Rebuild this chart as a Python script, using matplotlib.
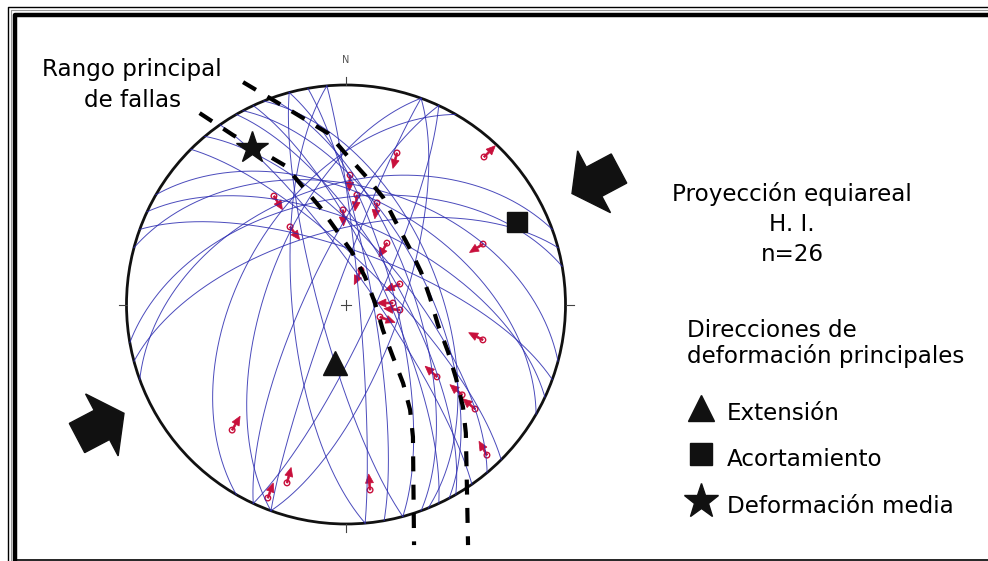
import numpy as np
import matplotlib.pyplot as plt
from matplotlib.patches import Circle, FancyArrow

# net centre and radius, in the pixel frame of the figure
CX, CY, R = 346.0, 304.5, 219.5

# fault planes: dip direction / dip (degrees)
dip_dirs = [60, 65, 70, 55, 75, 62, 80, 50, 68, 45,
            25, 30, 20, 15,
            350, 340, 345,
            115, 295, 110, 290,
            255, 265,
            290, 300,
            85]
dips = [70, 75, 65, 80, 72, 60, 80, 68, 55, 75,
        60, 50, 70, 45,
        50, 45, 62,
        80, 75, 70, 85,
        80, 70,
        60, 50,
        85]

# slickenside lineations (trend / plunge) and slip sense on the net
slip_trend = [18.6, 43.1, 1.8, 5.7, 17.0, 358.2, 326.4, 324.2, 33.7, 66.2,
              23.5, 69.2, 88.2, 95.8, 110.2, 104.5, 128.5, 129.0, 222.2,
              202.0, 198.3, 172.6, 136.9, 127.9]
slip_plunge = [28.0, 8.8, 40.7, 48.5, 50.0, 54.5, 40.4, 54.1, 62.5, 32.3,
               76.1, 68.6, 72.6, 69.9, 76.6, 35.8, 46.0, 25.3, 23.8,
               5.5, 15.5, 15.9, 6.7, 33.4]
slip_sense = [195, 45, 183, 187, 188, 178, 148, 143, 210, 238,
              205, 247, 270, 275, 110, 297, 312, 310, 30,
              20, 15, 355, 330, 310]

# principal strain axes (trend / plunge)
axes_names = ['Extensión', 'Acortamiento', 'Deformación media']
axes_trend = [190.6, 64.2, 329.0]
axes_plunge = [67.9, 14.6, 18.0]
axes_marker = ['^', 's', '*']

# the two dashed limits of the main fault range, x/y in net radii
range_w_x = [-0.667, -0.515, -0.278, -0.118, 0.027, 0.087, 0.132, 0.168,
             0.214, 0.260, 0.292, 0.305, 0.310]
range_w_y = [0.872, 0.772, 0.633, 0.443, 0.239, 0.125, 0.007, -0.116,
             -0.239, -0.358, -0.480, -0.603, -1.096]
range_e_x = [-0.469, -0.301, -0.082, 0.005, 0.087, 0.169, 0.223, 0.287,
             0.342, 0.383, 0.419, 0.465, 0.501, 0.533, 0.546, 0.556]
range_e_y = [1.013, 0.913, 0.780, 0.679, 0.588, 0.488, 0.383, 0.262,
             0.148, 0.030, -0.093, -0.216, -0.335, -0.467, -0.585, -1.096]


def project(trend, plunge):
    t = np.radians(trend)
    p = np.radians(plunge)
    r = np.sqrt(2) * np.sin((np.pi / 2 - p) / 2)
    return CX + R * r * np.sin(t), CY - R * r * np.cos(t)


def great_circle(dip_dir, dip):
    s = np.radians(dip_dir - 90)
    d = np.radians(dip)
    rake = np.radians(np.linspace(0, 180, 361))
    n = np.cos(rake) * np.cos(s) - np.sin(rake) * np.cos(d) * np.sin(s)
    e = np.cos(rake) * np.sin(s) + np.sin(rake) * np.cos(d) * np.cos(s)
    down = np.sin(rake) * np.sin(d)
    trend = np.degrees(np.arctan2(e, n))
    plunge = np.degrees(np.arcsin(np.clip(down, -1, 1)))
    return project(trend, plunge)


fig = plt.figure(figsize=(9.88, 5.61), dpi=100)
ax = fig.add_axes([0, 0, 1, 1])
ax.set_xlim(0, 988)
ax.set_ylim(561, 0)
ax.set_aspect('equal')
ax.axis('off')

# double frame
ax.plot([7.5, 7.5, 988], [561, 7, 7], color='black', lw=1.0)
ax.plot([10.5, 10.5, 988], [561, 10, 10], color='0.6', lw=0.8)
ax.plot([14.5, 14.5, 988], [561, 14.5, 14.5], color='black', lw=3.2)
ax.plot([14.5, 988], [559.5, 559.5], color='black', lw=1.2)

# fault planes
for dd, dp in zip(dip_dirs, dips):
    x, y = great_circle(dd, dp)
    ax.plot(x, y, color='#2b2bb0', lw=0.7, alpha=0.85)

# primitive, centre cross and cardinal ticks
ax.add_patch(Circle((CX, CY), R, fill=False, ec='#111111', lw=2.0))
ax.plot([CX - 5, CX + 5], [CY, CY], color='#444444', lw=0.8)
ax.plot([CX, CX], [CY - 5, CY + 5], color='#444444', lw=0.8)
for az in (0, 90, 180, 270):
    a = np.radians(az)
    ax.plot([CX + R * np.sin(a), CX + (R + 8) * np.sin(a)],
            [CY - R * np.cos(a), CY - (R + 8) * np.cos(a)],
            color='#444444', lw=0.8)
ax.text(CX, CY - R - 25, 'N', ha='center', va='center', fontsize=7,
        color='#555555')

# slip arrows
for tr, pl, sense in zip(slip_trend, slip_plunge, slip_sense):
    x0, y0 = project(tr, pl)
    a = np.radians(sense)
    dx, dy = 16 * np.sin(a), -16 * np.cos(a)
    ax.add_patch(Circle((x0, y0), 2.8, fill=False, ec='#c8103c', lw=1.0))
    ax.add_patch(FancyArrow(x0, y0, dx, dy, width=1.8, head_width=8,
                            head_length=9, length_includes_head=True,
                            color='#c8103c', lw=0.5))

# dashed limits of the main fault range
ax.plot(CX + R * np.array(range_w_x), CY - R * np.array(range_w_y),
        color='black', lw=3, dashes=(3.6, 3.2))
ax.plot(CX + R * np.array(range_e_x), CY - R * np.array(range_e_y),
        color='black', lw=3, dashes=(3.6, 3.2))

# principal axes
sizes = {'^': 17, 's': 14, '*': 24}
for tr, pl, m in zip(axes_trend, axes_plunge, axes_marker):
    x0, y0 = project(tr, pl)
    ax.plot(x0, y0, marker=m, ms=sizes[m], color='#111111', mec='#111111')

# regional shortening arrows
ax.add_patch(FancyArrow(619, 168.5, -47, 25, width=33,
                        head_width=70, head_length=25,
                        length_includes_head=True, color='#111111'))
ax.add_patch(FancyArrow(77, 438, 47, -24.7, width=33, head_width=70,
                        head_length=25, length_includes_head=True,
                        color='#111111'))

# texts
fs = 16.6
ax.text(132, 76, 'Rango principal', ha='center', va='baseline', fontsize=fs)
ax.text(132, 107, 'de fallas', ha='center', va='baseline', fontsize=fs)
ax.text(792, 201, 'Proyección equiareal', ha='center', va='baseline',
        fontsize=fs)
ax.text(792, 231, 'H. I.', ha='center', va='baseline', fontsize=fs)
ax.text(792, 261, 'n=26', ha='center', va='baseline', fontsize=fs)
ax.text(687, 337, 'Direcciones de', ha='left', va='baseline', fontsize=fs)
ax.text(687, 363, 'deformación principales', ha='left', va='baseline',
        fontsize=fs)

legend_y = [420, 466, 513]
for name, m, yb in zip(axes_names, axes_marker, legend_y):
    ax.plot(701, yb - 12, marker=m, ms=sizes[m] + 2, color='#111111')
    ax.text(727, yb, name, ha='left', va='baseline', fontsize=fs)

fig.savefig('out.png', dpi=100)
